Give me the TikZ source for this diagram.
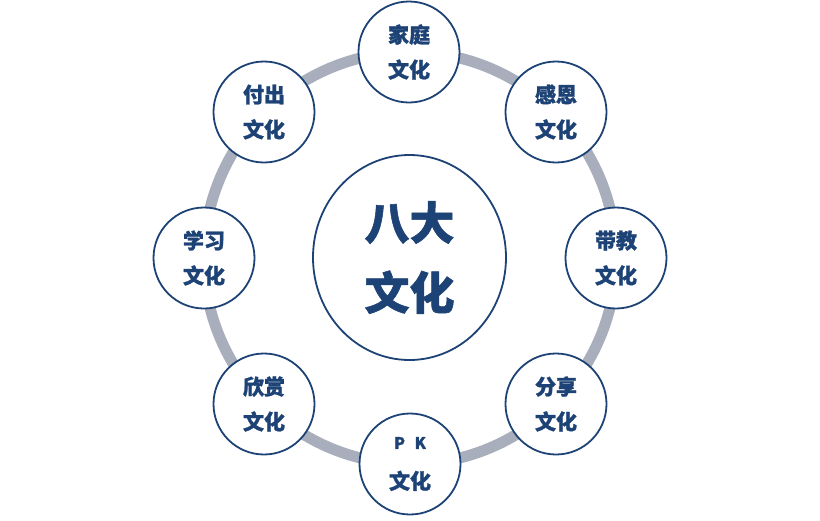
\documentclass[tikz,border=0pt]{standalone}
\usepackage{fontspec}
\newfontfamily\cjk{Noto Sans CJK SC}[BoldFeatures={FakeBold=1.2}]
\usetikzlibrary{shapes.geometric}
\definecolor{navy}{HTML}{1D4275}
\definecolor{ringgray}{HTML}{A9AEBD}
\begin{document}
\begin{tikzpicture}[x=1pt,y=-1pt,
  culture/.style={circle, draw=navy, line width=1.8pt, fill=white, minimum size=101pt, inner sep=0pt, text=navy, align=center, font=\cjk\bfseries\fontsize{21pt}{35pt}\selectfont},
  hub/.style={ellipse, draw=navy, line width=1.8pt, fill=white, minimum width=193pt, minimum height=205pt, inner sep=0pt, text=navy, align=center, font=\cjk\bfseries\fontsize{45pt}{70pt}\selectfont},
  ring/.style={draw=ringgray, line width=11pt}]
\useasboundingbox (0,0) rectangle (820,520);
\coordinate (c) at (410,258);
\draw[ring] (c) circle (206);
\node[hub] (center) at (409.5,257.5) {八大\\文化};
\node[culture] (jiating) at (409,52) {家庭\\文化};
\node[culture] (ganen) at (556,112) {感恩\\文化};
\node[culture] (daijiao) at (616,258) {带教\\文化};
\node[culture] (fenxiang) at (556,404) {分享\\文化};
\node[culture] (pk) at (410,464) {{\fontsize{16pt}{20pt}\selectfont P\hspace{0.6em}K}\\[5pt]文化};
\node[culture] (xinshang) at (264,404) {欣赏\\文化};
\node[culture] (xuexi) at (204,258) {学习\\文化};
\node[culture] (fuchu) at (264,112) {付出\\文化};
\end{tikzpicture}
\end{document}
